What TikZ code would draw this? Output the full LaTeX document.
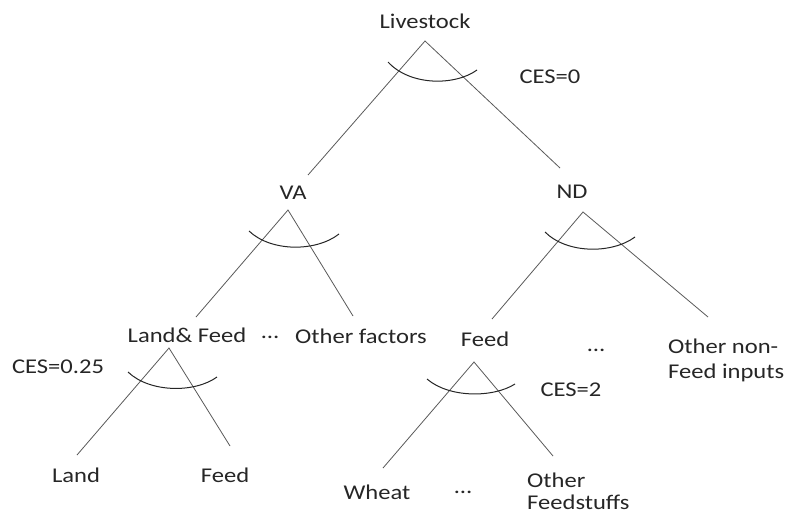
\documentclass[tikz,border=0pt]{standalone}
\usepackage{fontspec}
\setmainfont{Carlito}[FakeStretch=1.17]
\usepackage{tikz}
\usetikzlibrary{positioning}

\begin{document}
\begin{tikzpicture}[x=1pt, y=-1pt, txt/.style={inner sep=0pt, anchor=base, font=\fontsize{21}{25}\selectfont, text=black!85}, ramo/.style={draw=black!65, line width=0.8pt}, arco/.style={draw=black!85, line width=1pt}]
\useasboundingbox (0,0) rectangle (786,514);
\node[txt] (live) at (425,28) {Livestock};
\node[txt] (ces0) at (550,83) {CES=0};
\node[txt] (va) at (293,199) {VA};
\node[txt] (nd) at (572,198) {ND};
\node[txt] (lf) at (187,342) {Land\& Feed};
\node[txt] (dots1) at (270,338) {\dots};
\node[txt] (oth) at (361,343) {Other factors};
\node[txt] (feed) at (485,346) {Feed};
\node[txt] (dots2) at (596,351) {\dots};
\node[txt, anchor=base west, align=left] (nonfeed) at (668,378) {Other non-\\Feed inputs};
\node[txt] (ces25) at (58,373) {CES=0.25};
\node[txt] (ces2) at (571,396) {CES=2};
\node[txt] (land) at (76,482) {Land};
\node[txt] (feed2) at (225,482) {Feed};
\node[txt] (wheat) at (377,499) {Wheat};
\node[txt] (dots3) at (463,493) {\dots};
\node[txt, anchor=base west, align=left, font=\fontsize{21}{22}\selectfont] (fstuff) at (527,509) {Other\\Feedstuffs};
\coordinate (live-a) at (425,41);
\coordinate (va-t) at (308,175);
\coordinate (nd-t) at (560,168);
\coordinate (va-a) at (288,210);
\coordinate (lf-t) at (196,317);
\coordinate (oth-t) at (353,316);
\coordinate (nd-a) at (583,212);
\coordinate (feed-t) at (492,319);
\coordinate (nonfeed-t) at (708,317);
\coordinate (lf-a) at (169,348);
\coordinate (land-t) at (77,455);
\coordinate (feed2-t) at (230,446);
\coordinate (feed-a) at (474,362);
\coordinate (wheat-t) at (383,468);
\coordinate (fstuff-t) at (553,456);
\draw[ramo] (va-t) -- (live-a) -- (nd-t);
\draw[ramo] (lf-t) -- (va-a) -- (oth-t);
\draw[ramo] (feed-t) -- (nd-a) -- (nonfeed-t);
\draw[ramo] (land-t) -- (lf-a) -- (feed2-t);
\draw[ramo] (wheat-t) -- (feed-a) -- (fstuff-t);
\draw[arco] (388,62) .. controls (410,86) and (455,86) .. (477,70);
\draw[arco] (249,231) .. controls (271,252) and (316,252) .. (339,234);
\draw[arco] (545,232) .. controls (567,254) and (612,254) .. (635,237);
\draw[arco] (128,372) .. controls (150,393) and (195,393) .. (217,377);
\draw[arco] (427,379) .. controls (449,398) and (493,398) .. (515,384);
\end{tikzpicture}
\end{document}
